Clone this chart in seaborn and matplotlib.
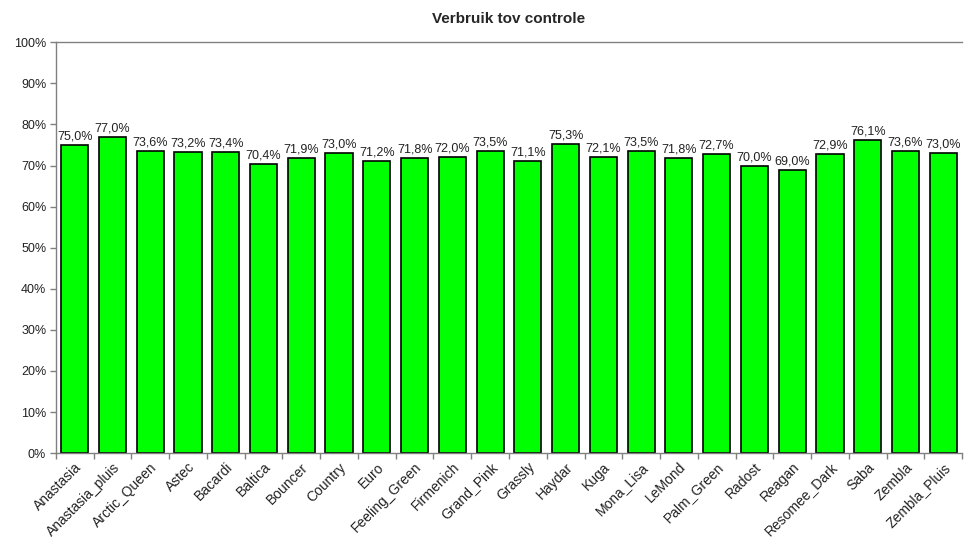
import matplotlib.pyplot as plt
import seaborn as sns
import pandas as pd
import numpy as np
from matplotlib.ticker import FixedLocator

rassen = ['Anastasia', 'Anastasia_pluis', 'Arctic_Queen', 'Astec', 'Bacardi', 'Baltica',
          'Bouncer', 'Country', 'Euro', 'Feeling_Green', 'Firmenich', 'Grand_Pink',
          'Grassly', 'Haydar', 'Kuga', 'Mona_Lisa', 'LeMond', 'Palm_Green', 'Radost',
          'Reagan', 'Resomee_Dark', 'Saba', 'Zembla', 'Zembla_Pluis']
verbruik = [75.0, 77.0, 73.6, 73.2, 73.4, 70.4, 71.9, 73.0, 71.2, 71.8, 72.0, 73.5,
            71.1, 75.3, 72.1, 73.5, 71.8, 72.7, 70.0, 69.0, 72.9, 76.1, 73.6, 73.0]
y_ticks = list(range(0, 101, 10))

df = pd.DataFrame({'ras': rassen, 'verbruik': verbruik})

sns.set_style('white')
plt.rcParams['font.family'] = ['Liberation Sans', 'DejaVu Sans']

fig = plt.figure(figsize=(9.64, 5.56), dpi=100)
ax = fig.add_axes([0.058, 0.185, 0.94, 0.739])

sns.barplot(data=df, x='ras', y='verbruik', color='#00ff00', saturation=1,
            edgecolor='black', linewidth=1.2, width=0.72, ax=ax)

for i, v in enumerate(verbruik):
    ax.text(i, v + 0.6, f'{v:.1f}%'.replace('.', ','), ha='center', va='bottom',
            fontsize=9, color='#222222')

ax.set_xlim(-0.5, len(rassen) - 0.5)
ax.set_ylim(0, 100)
ax.set_yticks(y_ticks)
ax.set_yticklabels([f'{t}%' for t in y_ticks], fontsize=9, color='#222222')
ax.set_xticks(range(len(rassen)))
ax.set_xticklabels(rassen, rotation=45, ha='right', rotation_mode='anchor', fontsize=10,
                   color='#222222')
ax.tick_params(axis='x', length=0, pad=5)
ax.tick_params(axis='y', length=4, width=1, color='#808080', left=True, pad=3)
ax.xaxis.set_minor_locator(FixedLocator(np.arange(-0.5, len(rassen), 1)))
ax.tick_params(axis='x', which='minor', length=4, width=1, color='#808080', bottom=True)

ax.set_xlabel('')
ax.set_ylabel('')
ax.set_title('Verbruik tov controle', fontsize=11, fontweight='bold', pad=14)

for side in ['left', 'top', 'bottom']:
    ax.spines[side].set_visible(True)
    ax.spines[side].set_color('#808080')
    ax.spines[side].set_linewidth(1)
ax.spines['right'].set_visible(False)

fig.savefig('out.png', dpi=100)
plt.close()
